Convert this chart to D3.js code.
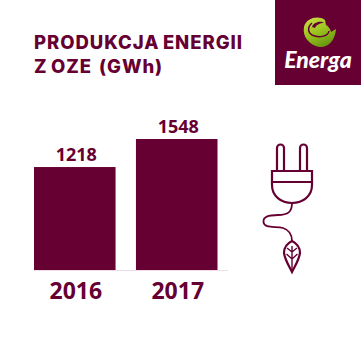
<!DOCTYPE html>
<html>
<head>
<meta charset="utf-8">
<script src="https://cdn.jsdelivr.net/npm/d3@7"></script>
<style>
html, body { margin: 0; padding: 0; background: #fff; overflow: hidden; }
svg { display: block; }
text { font-family: "Open Sans", sans-serif; fill: #660033; }
</style>
</head>
<body>
<div id="chart"></div>
<script>
let years = ["2016", "2017"]
let values = [1218, 1548]
let titleLines = ["PRODUKCJA ENERGII", "Z OZE  (GWh)"]
let logoText = "Energa"

let colors = { wine: "#660033", axis: "#f0dce6", dark: "#6a9a10", green: "#9cc31e", lime: "#cfe04a" }

const svg = d3.select('#chart')
    .append('svg')
    .attr('width', 361)
    .attr('height', 360)

const xScale = d3.scaleBand()
    .domain(years)
    .range([34, 217.5])
    .paddingInner(0.2)

const yScale = d3.scaleLinear()
    .domain([0, d3.max(values)])
    .range([270.5, 139])

// title
svg.append('g')
    .selectAll('text')
    .data(titleLines)
    .join('text')
    .attr('x', 34)
    .attr('y', (d, i) => 48.5 + i * 24)
    .style('font-family', 'Inter, sans-serif')
    .style('white-space', 'pre')
    .attr('font-size', 18.5)
    .attr('font-weight', 800)
    .attr('letter-spacing', 0.95)
    .attr('word-spacing', -1.5)
    .text(d => d)

// bars
svg.append('g')
    .selectAll('rect')
    .data(values)
    .join('rect')
    .attr('x', (d, i) => xScale(years[i]))
    .attr('y', d => yScale(d))
    .attr('width', xScale.bandwidth())
    .attr('height', d => yScale(0) - yScale(d))
    .attr('fill', colors.wine)

// value labels
svg.append('g')
    .selectAll('text')
    .data(values)
    .join('text')
    .attr('x', (d, i) => xScale(years[i]) + xScale.bandwidth() / 2 + 1.5)
    .attr('y', d => yScale(d) - 6.5)
    .attr('text-anchor', 'middle')
    .attr('font-size', 18)
    .attr('font-weight', 700)
    .text(d => d)

// axis
const xAxis = d3.axisBottom(xScale).tickSize(0).tickPadding(12)
const axisG = svg.append('g')
    .attr('transform', `translate(0, ${yScale(0)})`)
    .call(xAxis)
axisG.select('.domain').remove()
axisG.selectAll('text')
    .style('font-family', '"Open Sans", sans-serif')
    .style('font-size', '23px')
    .style('font-weight', 700)
    .attr('dx', 1)
    .attr('fill', colors.wine)
axisG.append('line')
    .attr('x1', xScale.range()[0])
    .attr('x2', 228)
    .attr('stroke', colors.axis)

// logo
const logo = svg.append('g')
const grad = svg.append('defs')
    .append('linearGradient')
    .attr('id', 'swirl')
    .attr('x1', 0).attr('y1', 0)
    .attr('x2', 0.5).attr('y2', 1)
grad.append('stop').attr('offset', '0%').attr('stop-color', colors.lime)
grad.append('stop').attr('offset', '55%').attr('stop-color', colors.green)
grad.append('stop').attr('offset', '100%').attr('stop-color', colors.dark)

logo.append('rect')
    .attr('x', 275)
    .attr('width', 86)
    .attr('height', 85)
    .attr('fill', colors.wine)
logo.append('path')
    .attr('d', 'M325 20 C318 15 306 18 304 27 C302 37 310 45 319 47 C328 48 335 41 336 29 L331 32 C330 28 328 26 326 25 Z')
    .attr('fill', 'url(#swirl)')
logo.append('path')
    .attr('d', 'M329 31 C328 37 318 38 312 35 C307 32 308 26 312 23')
    .attr('fill', 'none')
    .attr('stroke', colors.wine)
    .attr('stroke-width', 1.5)
logo.append('path')
    .attr('d', 'M312 27 C313 23 320 20 324 23 C320 23 316 25 315 28 Z')
    .attr('fill', colors.wine)
logo.append('text')
    .attr('x', 318)
    .attr('y', 67.5)
    .attr('text-anchor', 'middle')
    .style('font-family', 'Lato, sans-serif')
    .style('fill', '#fff')
    .attr('font-size', 23)
    .attr('font-weight', 900)
    .attr('font-style', 'italic')
    .text(logoText)

// plug icon
const plug = svg.append('g')
    .attr('fill', 'none')
    .attr('stroke', colors.wine)
    .attr('stroke-width', 2.2)
plug.append('path').attr('d', 'M277 171 V148 a3.5 3.5 0 0 1 7 0 V171')
plug.append('path').attr('d', 'M300 171 V148 a3.5 3.5 0 0 1 7 0 V171')
plug.append('path').attr('d', 'M272 171 H312 V182 H272 Z')
plug.append('path').attr('d', 'M272 182 V185 C272 196 281 203 292 203 C303 203 312 196 312 185 V182')
plug.append('path').attr('d', 'M292 203 C292 212 288 215 278 215 C268 215 263 217 263.5 222 C264 229 276 226 283 228 C289 230 292 235 292 241')
    .attr('stroke-width', 1.8)
plug.append('path').attr('d', 'M292 241 C298 244 300 249 300 253 C299 260 295 266 292 272 C289 266 285 260 284 253 C284 249 286 244 292 241 Z')
plug.append('path').attr('d', 'M292 246 V270 M292 252 L287 248 M292 252 L297 248 M292 259 L286.5 254 M292 259 L297.5 254')
    .attr('stroke-width', 1.4)
</script>
</body>
</html>
